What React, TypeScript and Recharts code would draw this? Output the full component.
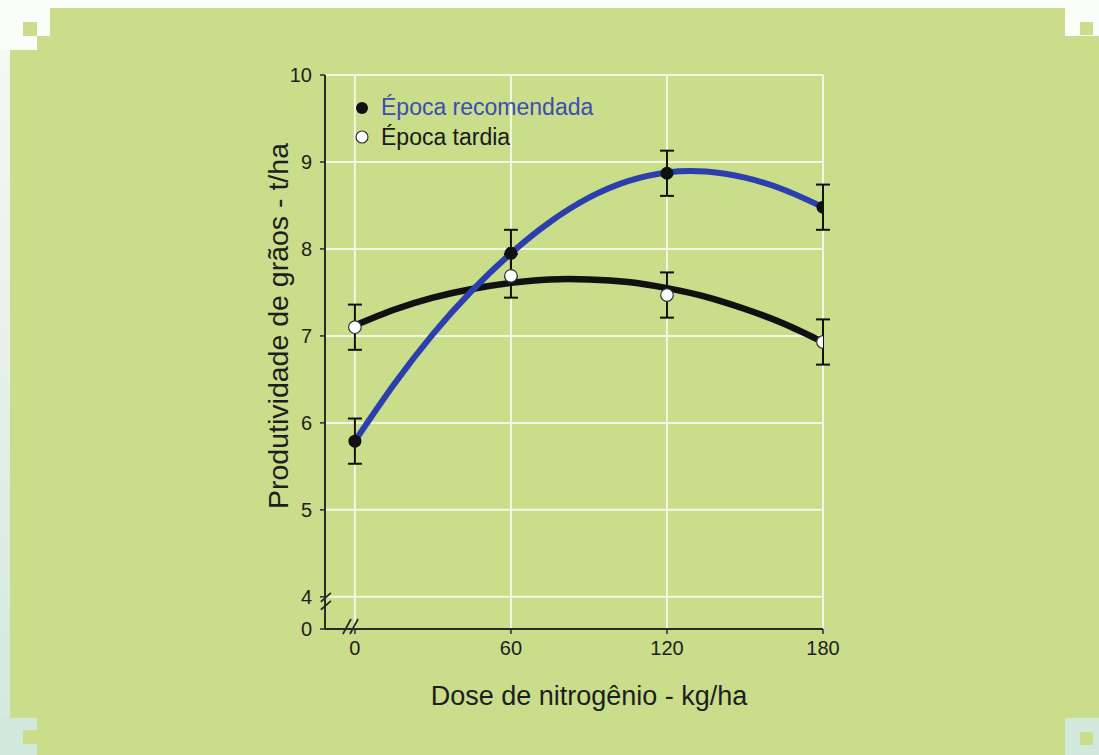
import React from "react";
import {
  ComposedChart,
  Line,
  Scatter,
  ErrorBar,
  XAxis,
  YAxis,
  CartesianGrid,
  Legend,
  ReferenceLine,
} from "recharts";

// doses de N (kg/ha) e médias observadas
const doses = [0, 60, 120, 180];
const recomendadaMedia = [5.79, 7.95, 8.87, 8.48];
const recomendadaErro = [0.26, 0.27, 0.26, 0.26];
const tardiaMedia = [7.1, 7.69, 7.47, 6.93];
const tardiaErro = [0.26, 0.25, 0.26, 0.26];

// curvas ajustadas
const curvaDoses = [0, 15, 30, 45, 60, 75, 90, 105, 120, 135, 150, 165, 180];
const curvaRecomendada = [5.79, 6.44, 7.02, 7.52, 7.95, 8.31, 8.59, 8.78, 8.88, 8.89, 8.82, 8.68, 8.48];
const curvaTardia = [7.12, 7.3, 7.44, 7.54, 7.61, 7.65, 7.65, 7.62, 7.55, 7.45, 7.31, 7.14, 6.93];

const xTicks = [0, 60, 120, 180];
const yTicks = [3.63, 4, 5, 6, 7, 8, 9, 10];
const yGrid = [4, 5, 6, 7, 8, 9, 10];

const FONT = "'Liberation Sans', Arial, sans-serif";
const GREEN = "#c9dd8b";
const BLUE = "#2b3fae";
const AXIS = "#2a2a2a";

const recomendadaPts = doses.map((x, i) => ({ x, y: recomendadaMedia[i], err: recomendadaErro[i] }));
const tardiaPts = doses.map((x, i) => ({ x, y: tardiaMedia[i], err: tardiaErro[i] }));
const recomendadaCurve = curvaDoses.map((x, i) => ({ x, y: curvaRecomendada[i] }));
const tardiaCurve = curvaDoses.map((x, i) => ({ x, y: curvaTardia[i] }));

// marcas de quebra de eixo (coordenadas de dados)
const quebraY = [
  [{ x: -13.1, y: 3.943 }, { x: -9.2, y: 4.046 }],
  [{ x: -13.1, y: 3.851 }, { x: -9.2, y: 3.954 }],
];
const quebraX = [
  [{ x: -4.6, y: 3.573 }, { x: -1.5, y: 3.745 }],
  [{ x: -1.9, y: 3.573 }, { x: 1.2, y: 3.745 }],
];

const LegendBox = () => (
  <svg width={270} height={70} style={{ display: "block" }}>
    <circle cx={12} cy={18} r={6} fill="#111" />
    <text x={31} y={25} fontSize={23} fontFamily={FONT} fill="#3d4db0">
      Época recomendada
    </text>
    <circle cx={12} cy={47} r={6} fill="#fff" stroke="#333" strokeWidth={1.2} />
    <text x={31} y={55} fontSize={23} fontFamily={FONT} fill="#1a1a1a">
      Época tardia
    </text>
  </svg>
);

const Corner = ({ style }: { style: React.CSSProperties }) => (
  <div style={{ position: "absolute", ...style }} />
);

export default function App() {
  return (
    <div
      style={{
        position: "absolute",
        left: 0,
        top: 0,
        width: 1099,
        height: 755,
        background: GREEN,
        overflow: "hidden",
      }}
    >
      {/* moldura clara e cantos */}
      <Corner style={{ left: 0, top: 0, width: 1099, height: 8, background: "#fbfdf8" }} />
      <Corner style={{ left: 0, top: 0, width: 10, height: 755, background: "linear-gradient(#f6faf2, #d3e8dc)" }} />
      <Corner style={{ left: 0, top: 0, width: 50, height: 36, background: "#fbfdf8" }} />
      <Corner style={{ left: 0, top: 0, width: 37, height: 50, background: "#fbfdf8" }} />
      <Corner style={{ left: 23, top: 22, width: 14, height: 14, background: GREEN }} />
      <Corner style={{ left: 1065, top: 0, width: 34, height: 36, background: "#fbfdf8" }} />
      <Corner style={{ left: 1080, top: 22, width: 13, height: 13, background: GREEN }} />
      <Corner style={{ left: 0, top: 718, width: 37, height: 37, background: "#d3e8dc" }} />
      <Corner style={{ left: 23, top: 730, width: 14, height: 14, background: GREEN }} />
      <Corner style={{ left: 1065, top: 718, width: 34, height: 37, background: "#d3e8dc" }} />
      <Corner style={{ left: 1080, top: 732, width: 13, height: 13, background: GREEN }} />

      <ComposedChart
        width={1099}
        height={755}
        margin={{ top: 75, right: 276, bottom: 86, left: 265 }}
        style={{ position: "absolute", left: 0, top: 0 }}
      >
        <CartesianGrid
          stroke="#f3f7e6"
          strokeWidth={2}
          horizontalValues={yGrid}
          verticalValues={xTicks}
        />
        <XAxis
          type="number"
          dataKey="x"
          domain={[-11.5, 180]}
          allowDataOverflow
          ticks={xTicks}
          height={40}
          tickSize={5}
          tickMargin={7}
          axisLine={{ stroke: AXIS, strokeWidth: 2 }}
          tickLine={{ stroke: AXIS, strokeWidth: 1.5 }}
          tick={{ fontSize: 20, fill: "#1e1e1e", fontFamily: FONT }}
          label={{
            content: () => (
              <text x={589} y={705} textAnchor="middle" fontSize={27} fontFamily={FONT} fill="#1e1e1e">
                Dose de nitrogênio - kg/ha
              </text>
            ),
          }}
        />
        <YAxis
          type="number"
          dataKey="y"
          domain={[3.63, 10]}
          allowDataOverflow
          ticks={yTicks}
          width={60}
          tickSize={5}
          tickMargin={8}
          tickFormatter={(v: number) => (v < 3.9 ? "0" : String(v))}
          axisLine={{ stroke: AXIS, strokeWidth: 2 }}
          tickLine={{ stroke: AXIS, strokeWidth: 1.5 }}
          tick={{ fontSize: 20, fill: "#1e1e1e", fontFamily: FONT }}
          label={{
            content: () => (
              <text
                x={288}
                y={326}
                textAnchor="middle"
                fontSize={28.5}
                fontFamily={FONT}
                fill="#1e1e1e"
                transform="rotate(-90 288 326)"
              >
                Produtividade de grãos - t/ha
              </text>
            ),
          }}
        />
        {quebraY.concat(quebraX).map((seg, i) => (
          <ReferenceLine
            key={`q-${i}`}
            segment={seg}
            ifOverflow="visible"
            stroke={AXIS}
            strokeWidth={1.8}
          />
        ))}
        <Legend
          layout="horizontal"
          align="center"
          verticalAlign="middle"
          content={() => <LegendBox />}
          wrapperStyle={{ left: 350, top: 90, width: 270, height: 70 }}
        />
        <Line
          data={tardiaCurve}
          dataKey="y"
          type="natural"
          stroke="#111"
          strokeWidth={6.5}
          dot={false}
          activeDot={false}
          isAnimationActive={false}
          legendType="none"
        />
        <Line
          data={recomendadaCurve}
          dataKey="y"
          type="natural"
          stroke={BLUE}
          strokeWidth={6}
          dot={false}
          activeDot={false}
          isAnimationActive={false}
          legendType="none"
        />
        <Scatter
          data={tardiaPts}
          dataKey="y"
          isAnimationActive={false}
          shape={(p: any) => (
            <circle cx={p.cx} cy={p.cy} r={6.3} fill="#fff" stroke="#333" strokeWidth={1.2} />
          )}
        >
          <ErrorBar dataKey="err" direction="y" width={7} stroke="#111" strokeWidth={2} />
        </Scatter>
        <Scatter
          data={recomendadaPts}
          dataKey="y"
          isAnimationActive={false}
          shape={(p: any) => <circle cx={p.cx} cy={p.cy} r={6.5} fill="#111" />}
        >
          <ErrorBar dataKey="err" direction="y" width={7} stroke="#111" strokeWidth={2} />
        </Scatter>
      </ComposedChart>
    </div>
  );
}
